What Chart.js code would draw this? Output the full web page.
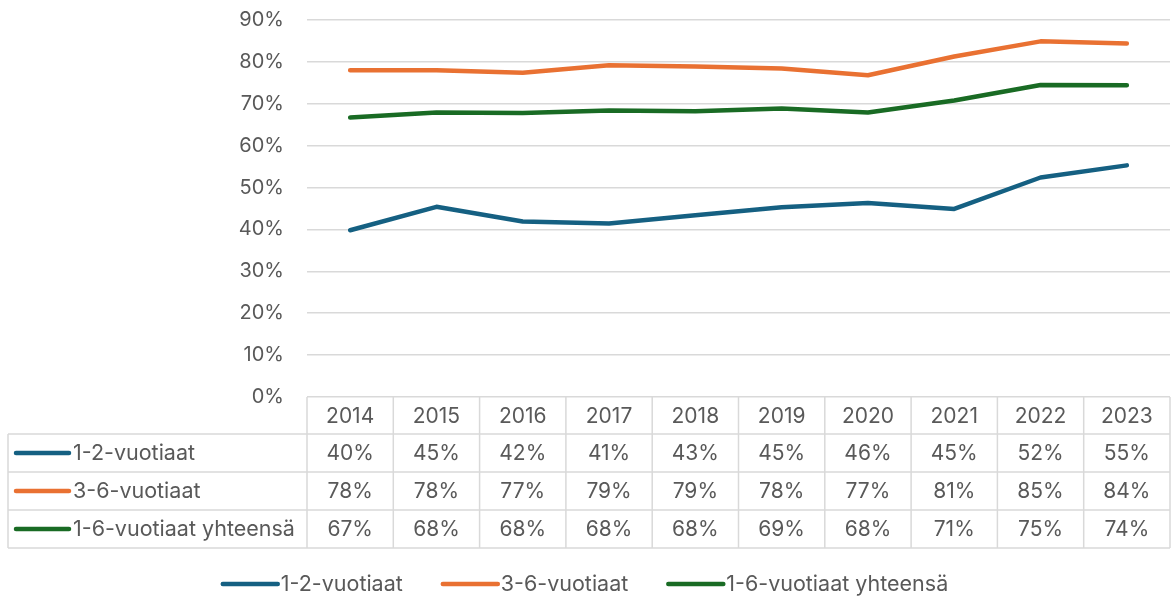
<!DOCTYPE html>
<html>
<head>
<meta charset="utf-8">
<script src="https://cdn.jsdelivr.net/npm/chart.js@4"></script>
<style>
  html, body { margin: 0; padding: 0; background: #fff; }
  #wrap { width: 1171px; height: 596px; }
</style>
</head>
<body>
<div id="wrap"><canvas id="c" width="1171" height="596"></canvas></div>
<script>
const years = ["2014", "2015", "2016", "2017", "2018", "2019", "2020", "2021", "2022", "2023"]
const seriesNames = ["1-2-vuotiaat", "3-6-vuotiaat", "1-6-vuotiaat yhteensä"]
const age12 = [39.8, 45.4, 41.9, 41.4, 43.4, 45.3, 46.3, 44.9, 52.4, 55.3]
const age36 = [78.0, 78.0, 77.4, 79.2, 78.9, 78.4, 76.8, 81.3, 84.9, 84.4]
const age16 = [66.7, 67.9, 67.8, 68.4, 68.2, 68.9, 67.9, 70.8, 74.5, 74.4]
const yTicks = [0, 10, 20, 30, 40, 50, 60, 70, 80, 90]

const colors = ["#156082", "#E97132", "#196B24"]
const textColor = "#595959"
const gridColor = "#D9D9D9"
const FAMILY = "Inter, 'Liberation Sans', sans-serif"
const NUM_FONT = "21px " + FAMILY
const LABEL_FONT = "21.5px " + FAMILY

// data table under the plot + legend at the bottom
const tablePlugin = {
  id: "dataTable",
  afterDraw(chart) {
    const ctx = chart.ctx
    const area = chart.chartArea
    const xs = chart.scales.x
    const top = area.bottom
    const headH = 37
    const rowH = 38
    const tableLeft = 8
    const sets = chart.data.datasets

    const bounds = [area.left]
    for (let i = 0; i < years.length - 1; i++) {
      bounds.push((xs.getPixelForValue(i) + xs.getPixelForValue(i + 1)) / 2)
    }
    bounds.push(area.right)

    const bottom = top + headH + rowH * sets.length

    ctx.save()
    ctx.strokeStyle = gridColor
    ctx.lineWidth = 1.5
    ctx.beginPath()
    bounds.forEach((b) => {
      ctx.moveTo(b, top)
      ctx.lineTo(b, bottom)
    })
    ctx.moveTo(tableLeft, top + headH)
    ctx.lineTo(tableLeft, bottom)
    for (let r = 0; r <= sets.length; r++) {
      const y = top + headH + r * rowH
      ctx.moveTo(tableLeft, y)
      ctx.lineTo(area.right, y)
    }
    ctx.stroke()

    ctx.font = NUM_FONT
    ctx.fillStyle = textColor
    ctx.textBaseline = "middle"
    ctx.textAlign = "center"
    years.forEach((yr, i) => {
      ctx.fillText(yr, xs.getPixelForValue(i), top + headH / 2 + 1)
    })

    sets.forEach((ds, r) => {
      const cy = top + headH + r * rowH + rowH / 2
      ctx.font = NUM_FONT
      ctx.textAlign = "center"
      ctx.fillStyle = textColor
      ds.data.forEach((v, i) => {
        ctx.fillText(Math.round(v) + "%", xs.getPixelForValue(i), cy + 1)
      })
      ctx.strokeStyle = ds.borderColor
      ctx.lineWidth = 4.5
      ctx.lineCap = "round"
      ctx.beginPath()
      ctx.moveTo(16, cy)
      ctx.lineTo(69, cy)
      ctx.stroke()
      ctx.font = LABEL_FONT
      ctx.textAlign = "left"
      ctx.fillText(ds.label, 73, cy + 1)
    })

    // legend
    ctx.font = LABEL_FONT
    const ly = 584
    const keyW = 55
    const gap = 3
    const itemGap = 40
    const widths = sets.map((ds) => keyW + gap + ctx.measureText(ds.label).width)
    const total = widths.reduce((a, b) => a + b, 0) + itemGap * (sets.length - 1)
    let x = chart.width / 2 - total / 2
    sets.forEach((ds, i) => {
      ctx.strokeStyle = ds.borderColor
      ctx.lineWidth = 4.5
      ctx.lineCap = "round"
      ctx.beginPath()
      ctx.moveTo(x, ly)
      ctx.lineTo(x + keyW, ly)
      ctx.stroke()
      ctx.fillStyle = textColor
      ctx.textAlign = "left"
      ctx.fillText(ds.label, x + keyW + gap, ly + 1)
      x += widths[i] + itemGap
    })
    ctx.restore()
  },
}

new Chart(document.getElementById("c"), {
  type: "line",
  data: {
    labels: years,
    datasets: [age12, age36, age16].map((vals, i) => ({
      label: seriesNames[i],
      data: vals,
      borderColor: colors[i],
      backgroundColor: colors[i],
      borderWidth: 4.5,
      borderCapStyle: "round",
      borderJoinStyle: "round",
      pointRadius: 0,
      tension: 0,
    })),
  },
  options: {
    responsive: false,
    animation: false,
    layout: { padding: { top: 20, right: 1, bottom: 199, left: 0 } },
    plugins: { legend: { display: false }, tooltip: { enabled: false } },
    scales: {
      x: { display: false, offset: true },
      y: {
        min: 0,
        max: 90,
        afterBuildTicks: (scale) => {
          scale.ticks = yTicks.map((v) => ({ value: v }))
        },
        afterFit: (scale) => {
          scale.width = 307
        },
        border: { display: false },
        // invisible tick marks push the labels away from the plot
        grid: { color: gridColor, lineWidth: 1.5, drawTicks: true, tickLength: 23, tickColor: "rgba(0,0,0,0)" },
        ticks: {
          color: textColor,
          font: { family: FAMILY, size: 20 },
          padding: 0,
          callback: (v) => v + "%",
        },
      },
    },
  },
  plugins: [tablePlugin],
})
</script>
</body>
</html>
